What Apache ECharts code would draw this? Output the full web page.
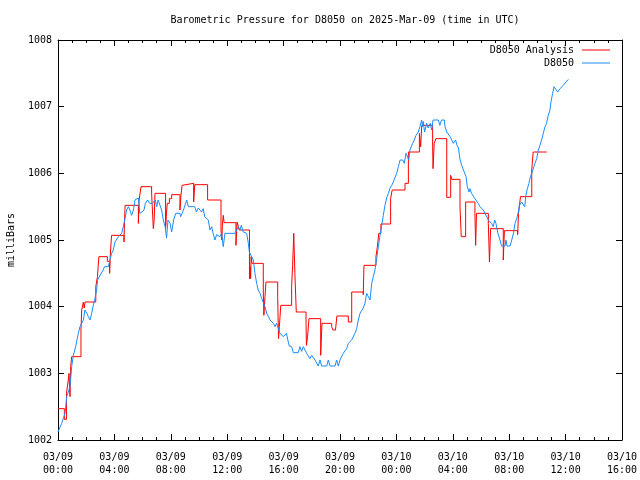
<!DOCTYPE html>
<html>
<head>
<meta charset="utf-8">
<script src="https://cdn.jsdelivr.net/npm/echarts@6/dist/echarts.min.js"></script>
<style>html,body{margin:0;padding:0;background:#fff}#c{width:640px;height:480px}</style>
</head>
<body>
<div id="c"></div>
<script>
const titleText = 'Barometric Pressure for D8050 on 2025-Mar-09 (time in UTC)';
const yName = 'milliBars';
const seriesNames = ['D8050 Analysis', 'D8050'];
const xTickLabels = ['03/09\n00:00','03/09\n04:00','03/09\n08:00','03/09\n12:00','03/09\n16:00','03/09\n20:00','03/10\n00:00','03/10\n04:00','03/10\n08:00','03/10\n12:00','03/10\n16:00'];

// hours since 2025-03-09 00:00 UTC, value holds until next time (steps)
const analysisHours = [0,0.45,0.6,0.73,0.78,0.85,0.9,0.97,1.63,1.68,1.8,1.86,1.92,2.68,2.8,2.9,3.5,3.66,3.72,3.8,4.68,4.72,4.76,5.7,5.75,5.89,6.64,6.76,6.82,6.88,7.63,7.7,7.75,7.9,8.06,8.65,8.72,8.8,8.84,9.62,9.7,10.61,11.56,11.62,11.66,11.72,11.78,12.62,12.7,12.8,12.85,13.58,13.63,13.66,13.7,13.75,14.56,14.6,14.68,14.75,15.58,15.64,15.7,15.8,16.57,16.64,16.72,16.8,16.9,17.59,17.62,17.7,17.8,18.63,18.72,19.41,19.5,19.68,19.78,20.59,20.83,21.65,21.7,22.55,22.65,22.75,22.9,23.59,23.7,24.61,24.85,25.63,25.72,25.8,26.57,26.6,26.68,26.8,27.57,27.85,27.92,28.51,28.6,28.91,29.57,29.62,29.68,30.52,30.6,30.68,31.58,31.66,32.6,32.66,32.72,32.8,33.6,33.7,34.66];
const analysisMb = [1002.47,1002.31,1002.7,1002.9,1003.0,1002.65,1003.1,1003.25,1003.65,1003.95,1004.07,1003.98,1004.07,1004.3,1004.45,1004.75,1004.68,1004.5,1004.82,1005.07,1004.97,1005.3,1005.52,1005.25,1005.6,1005.8,1005.7,1005.17,1005.3,1005.7,1005.17,1005.42,1005.55,1005.62,1005.68,1005.45,1005.67,1005.82,1005.85,1005.57,1005.83,1005.6,1005.15,1005.0,1005.22,1005.37,1005.26,1004.92,1005.27,1005.2,1005.15,1004.42,1004.6,1004.42,1004.75,1004.65,1004.25,1003.87,1004.15,1004.37,1004.15,1003.52,1003.7,1004.02,1004.3,1004.62,1005.1,1004.5,1003.92,1003.75,1003.42,1003.55,1003.82,1003.27,1003.75,1003.7,1003.65,1003.62,1003.86,1003.77,1004.22,1004.18,1004.62,1004.75,1004.9,1005.1,1005.24,1005.62,1005.75,1005.85,1006.32,1006.6,1006.4,1006.72,1006.4,1006.07,1006.45,1006.52,1005.64,1005.97,1005.91,1005.5,1005.05,1005.57,1005.4,1004.92,1005.4,1005.25,1004.67,1005.17,1004.7,1005.14,1005.08,1005.4,1005.5,1005.65,1006.05,1006.32,1006.32];

const stationHours = [0,0.26,0.5,0.62,0.85,0.97,1.09,1.25,1.44,1.56,1.8,1.91,2.05,2.15,2.27,2.39,2.5,2.62,2.74,2.81,2.98,3.2,3.3,3.57,3.8,3.92,4.04,4.28,4.52,4.63,4.75,4.87,4.99,5.1,5.22,5.35,5.46,5.7,5.8,5.95,6.1,6.2,6.35,6.5,6.7,6.9,7.0,7.1,7.35,7.47,7.6,7.7,7.8,7.95,8.06,8.2,8.35,8.65,8.7,8.9,9.13,9.24,9.7,9.82,9.95,10.05,10.18,10.3,10.4,10.53,10.66,10.78,10.9,11.0,11.13,11.25,11.37,11.48,11.6,11.72,11.84,12.55,12.67,12.79,12.9,13.0,13.14,13.38,13.5,13.57,13.85,13.97,14.09,14.2,14.33,14.45,14.56,14.68,14.8,14.92,15.04,15.15,15.27,15.39,15.5,15.62,15.74,15.98,16.1,16.2,16.3,16.4,16.57,16.69,17.04,17.16,17.28,17.4,17.52,17.64,17.75,17.87,17.99,18.1,18.23,18.35,18.46,18.58,18.7,19.06,19.17,19.29,19.65,19.76,19.88,20.0,20.12,20.23,20.35,20.47,20.59,20.71,20.83,21.06,21.18,21.3,21.42,21.65,21.77,21.89,22.0,22.13,22.25,22.36,22.48,22.6,22.72,22.84,22.96,23.07,23.19,23.31,23.43,23.55,23.67,23.78,23.9,24.02,24.14,24.26,24.45,24.56,24.68,24.8,24.88,24.96,25.05,25.15,25.27,25.39,25.55,25.67,25.79,25.85,25.9,26.0,26.15,26.25,26.4,26.5,26.6,26.97,27.08,27.2,27.4,27.45,27.57,27.68,27.8,27.92,28.04,28.12,28.2,28.3,28.4,28.5,28.63,28.72,28.81,28.94,29.03,29.15,29.22,29.33,29.45,29.57,29.69,29.8,29.93,30.16,30.28,30.4,30.52,30.64,30.75,30.87,30.97,31.06,31.2,31.35,31.46,31.7,31.77,31.84,32.06,32.18,32.3,32.41,32.53,32.65,32.72,32.88,32.98,33.1,33.17,33.26,33.4,33.5,33.6,33.7,33.83,33.95,34.07,34.18,34.3,34.42,34.54,34.65,34.77,34.89,34.96,35.08,35.18,35.32,35.44,35.6,35.84,36.03,36.2];
const stationMb = [1002.12,1002.25,1002.4,1002.65,1002.8,1003.1,1003.27,1003.4,1003.6,1003.7,1003.8,1003.95,1003.9,1003.85,1003.8,1003.9,1004.02,1004.12,1004.25,1004.4,1004.47,1004.55,1004.6,1004.6,1004.8,1004.85,1004.97,1005.05,1005.1,1005.2,1005.32,1005.45,1005.5,1005.45,1005.37,1005.45,1005.6,1005.63,1005.4,1005.42,1005.45,1005.55,1005.6,1005.55,1005.55,1005.6,1005.5,1005.6,1005.45,1005.3,1005.2,1005.03,1005.3,1005.25,1005.12,1005.3,1005.4,1005.4,1005.35,1005.45,1005.6,1005.5,1005.5,1005.42,1005.48,1005.5,1005.42,1005.47,1005.35,1005.38,1005.3,1005.15,1005.2,1005.1,1005.0,1005.08,1005.1,1005.05,1005.1,1004.9,1005.1,1005.1,1005.15,1005.2,1005.15,1005.22,1005.12,1005.1,1004.95,1004.82,1004.7,1004.5,1004.35,1004.25,1004.2,1004.12,1004.1,1004.0,1003.9,1003.85,1003.8,1003.8,1003.75,1003.7,1003.75,1003.68,1003.6,1003.55,1003.52,1003.6,1003.5,1003.41,1003.4,1003.31,1003.31,1003.4,1003.33,1003.4,1003.35,1003.3,1003.27,1003.22,1003.27,1003.3,1003.2,1003.18,1003.11,1003.2,1003.11,1003.11,1003.2,1003.11,1003.11,1003.2,1003.11,1003.2,1003.22,1003.3,1003.33,1003.37,1003.45,1003.47,1003.5,1003.6,1003.67,1003.8,1003.9,1003.98,1004.05,1004.2,1004.2,1004.1,1004.35,1004.45,1004.55,1004.72,1004.9,1005.07,1005.22,1005.37,1005.52,1005.63,1005.7,1005.78,1005.82,1005.87,1005.9,1006.0,1006.1,1006.2,1006.2,1006.15,1006.3,1006.32,1006.2,1006.35,1006.35,1006.45,1006.5,1006.57,1006.62,1006.7,1006.8,1006.7,1006.78,1006.62,1006.75,1006.68,1006.75,1006.65,1006.8,1006.8,1006.72,1006.8,1006.8,1006.7,1006.62,1006.6,1006.55,1006.5,1006.45,1006.42,1006.5,1006.42,1006.38,1006.22,1006.12,1006.1,1006.02,1005.95,1005.8,1005.72,1005.77,1005.7,1005.67,1005.62,1005.6,1005.55,1005.5,1005.45,1005.4,1005.38,1005.3,1005.27,1005.25,1005.2,1005.3,1005.25,1005.1,1005.0,1004.91,1004.91,1005.0,1004.91,1004.91,1005.0,1005.1,1005.25,1005.32,1005.42,1005.52,1005.57,1005.55,1005.5,1005.65,1005.75,1005.85,1005.95,1006.0,1006.02,1006.15,1006.22,1006.35,1006.42,1006.5,1006.6,1006.7,1006.75,1006.87,1006.95,1007.07,1007.2,1007.3,1007.27,1007.22,1007.27,1007.32,1007.37,1007.41];

const FONT = '"DejaVu Sans Mono", "Liberation Mono", monospace';
const pair = (xs, ys) => xs.map((x, i) => [x, ys[i]]);

const chart = echarts.init(document.getElementById('c'), null, {renderer: 'canvas'});
const axisCommonX = {
  type: 'value', min: 0, max: 40, interval: 4,
  axisLine: {show: true, onZero: false, lineStyle: {color: '#000', width: 1}},
  axisTick: {show: true, inside: true, length: 6, lineStyle: {color: '#000', width: 1}},
  minorTick: {show: true, splitNumber: 4, length: 3, lineStyle: {color: '#000', width: 1}},
  splitLine: {show: false}
};
const axisCommonY = {
  type: 'value', min: 1002, max: 1008, interval: 1,
  axisLine: {show: true, onZero: false, lineStyle: {color: '#000', width: 1}},
  axisTick: {show: true, inside: true, length: 6, lineStyle: {color: '#000', width: 1}},
  splitLine: {show: false}
};
const legendText = {fontFamily: FONT, fontSize: 10, color: '#000', padding: [0, 3, 0, 0]};
chart.setOption({
  animation: false,
  backgroundColor: '#fff',
  title: {
    text: titleText, left: 340, top: 10, textAlign: 'center',
    textStyle: {fontFamily: FONT, fontSize: 10, fontWeight: 'normal', color: '#000'}
  },
  grid: {left: 58, right: 18, top: 40, bottom: 40, containLabel: false, outerBoundsMode: 'none'},
  legend: [
    {data: [seriesNames[0]], right: 25, top: 40, align: 'right', icon: 'rect', itemWidth: 28, itemHeight: 1,
     textStyle: legendText},
    {data: [seriesNames[1]], right: 25, top: 53, align: 'right', icon: 'rect', itemWidth: 28, itemHeight: 1,
     textStyle: legendText}
  ],
  xAxis: [
    Object.assign({}, axisCommonX, {
      position: 'bottom',
      axisLabel: {
        formatter: v => xTickLabels[Math.round(v / 4)] || '',
        fontFamily: FONT, fontSize: 10, color: '#000', lineHeight: 13, margin: 11
      }
    }),
    Object.assign({}, axisCommonX, {position: 'top', axisLabel: {show: false}})
  ],
  yAxis: [
    Object.assign({}, axisCommonY, {
      position: 'left',
      name: yName, nameLocation: 'middle', nameGap: 42, nameRotate: 90,
      nameTextStyle: {fontFamily: FONT, fontSize: 10, color: '#000'},
      axisLabel: {formatter: v => String(v), fontFamily: FONT, fontSize: 10, color: '#000', margin: 6}
    }),
    Object.assign({}, axisCommonY, {position: 'right', axisLabel: {show: false}})
  ],
  series: [
    {
      name: seriesNames[0], type: 'line', step: 'end', xAxisIndex: 0, yAxisIndex: 0,
      data: pair(analysisHours, analysisMb), symbol: 'none', showSymbol: false,
      lineStyle: {color: '#ff0000', width: 1}, itemStyle: {color: '#ff0000'}
    },
    {
      name: seriesNames[1], type: 'line', xAxisIndex: 0, yAxisIndex: 0,
      data: pair(stationHours, stationMb), symbol: 'none', showSymbol: false,
      lineStyle: {color: '#1a8cff', width: 1}, itemStyle: {color: '#1a8cff'}
    }
  ]
});
</script>
</body>
</html>
